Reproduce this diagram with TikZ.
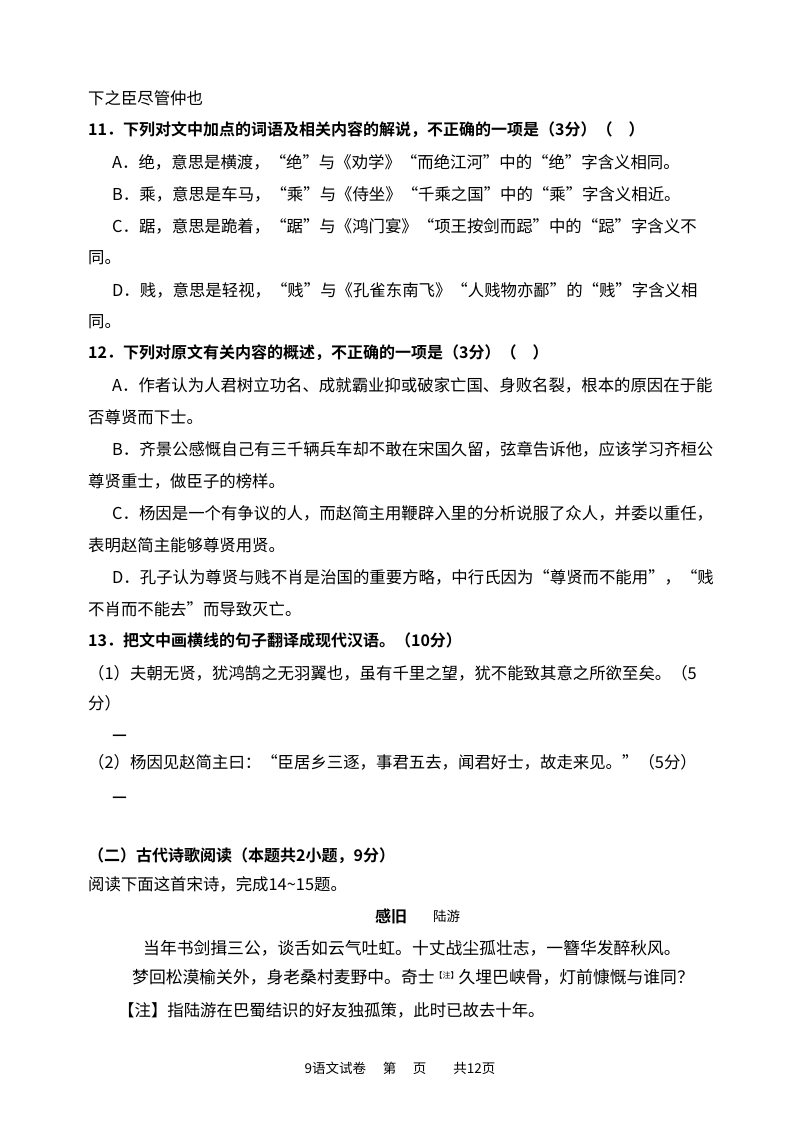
\documentclass[tikz,border=0pt]{standalone}
\usepackage{fontspec}
\setmainfont{Noto Sans CJK SC}[BoldFont={* Bold}]
\begin{document}
\begin{tikzpicture}[x=1pt,y=-1pt,
  ln/.style={anchor=west,inner sep=0pt,font=\fontsize{16.4}{18}\selectfont},
  bl/.style={ln,font=\fontsize{16}{18}\selectfont\bfseries},
  pm/.style={ln,font=\fontsize{16.8}{18}\selectfont}]
\useasboundingbox[fill=white] (0,0) rectangle (800,1130);
\node[ln] (l1) at (88,98) {下之臣尽管仲也};
\node[bl] (q11) at (88,130) {11．下列对文中加点的词语及相关内容的解说，不正确的一项是（3分）（\quad ）};
\node[ln] (a11) at (112,162) {A．绝，意思是横渡，“绝”与《劝学》“而绝江河”中的“绝”字含义相同。};
\node[ln] (b11) at (112,194) {B．乘，意思是车马，“乘”与《侍坐》“千乘之国”中的“乘”字含义相近。};
\node[ln] (c11) at (112,226) {C．踞，意思是跪着，“踞”与《鸿门宴》“项王按剑而跽”中的“跽”字含义不};
\node[ln] (c11b) at (88,258) {同。};
\node[ln] (d11) at (112,290) {D．贱，意思是轻视，“贱”与《孔雀东南飞》“人贱物亦鄙”的“贱”字含义相};
\node[ln] (d11b) at (88,322) {同。};
\node[bl] (q12) at (88,353) {12．下列对原文有关内容的概述，不正确的一项是（3分）（\quad ）};
\node[ln] (a12) at (112,385) {A．作者认为人君树立功名、成就霸业抑或破家亡国、身败名裂，根本的原因在于能};
\node[ln] (a12b) at (88,417) {否尊贤而下士。};
\node[ln] (b12) at (112,449) {B．齐景公感慨自己有三千辆兵车却不敢在宋国久留，弦章告诉他，应该学习齐桓公};
\node[ln] (b12b) at (88,481) {尊贤重士，做臣子的榜样。};
\node[ln] (c12) at (112,513) {C．杨因是一个有争议的人，而赵简主用鞭辟入里的分析说服了众人，并委以重任，};
\node[ln] (c12b) at (88,545) {表明赵简主能够尊贤用贤。};
\node[ln] (d12) at (112,577) {D．孔子认为尊贤与贱不肖是治国的重要方略，中行氏因为“尊贤而不能用”，“贱};
\node[ln] (d12b) at (88,609) {不肖而不能去”而导致灭亡。};
\node[bl] (q13) at (88,640) {13．把文中画横线的句子翻译成现代汉语。（10分）};
\node[ln] (q13a) at (88,673) {（1）夫朝无贤，犹鸿鹄之无羽翼也，虽有千里之望，犹不能致其意之所欲至矣。（5};
\node[ln] (q13ab) at (88,703) {分）};
\node[ln,font=\fontsize{16.4}{18}\selectfont\bfseries] (dash1) at (112,738) {—};
\node[ln] (q13b) at (88,762) {（2）杨因见赵简主曰：“臣居乡三逐，事君五去，闻君好士，故走来见。”（5分）};
\node[ln,font=\fontsize{16.4}{18}\selectfont\bfseries] (dash2) at (112,800) {—};
\node[bl] (sec) at (88,856) {（二）古代诗歌阅读（本题共2小题，9分）};
\node[ln] (read) at (88,884) {阅读下面这首宋诗，完成14\textasciitilde15题。};
\node[bl] (title) at (375,916) {感旧};
\node[ln,font=\fontsize{13.5}{16}\selectfont] (auth) at (433,916) {陆游};
\node[pm] (p1) at (143,948) {当年书剑揖三公，谈舌如云气吐虹。十丈战尘孤壮志，一簪华发醉秋风。};
\node[pm] (p2) at (132,977) {梦回松漠榆关外，身老桑村麦野中。奇士\raisebox{5pt}{\fontsize{8}{9}\selectfont【注】}久埋巴峡骨，灯前慷慨与谁同？};
\node[ln] (note) at (118,1010) {【注】指陆游在巴蜀结识的好友独孤策，此时已故去十年。};
\node[inner sep=0pt,font=\fontsize{13.5}{16}\selectfont] (foot) at (400,1068) {9语文试卷\quad\ 第\quad\ 页\qquad 共12页};
\end{tikzpicture}
\end{document}
